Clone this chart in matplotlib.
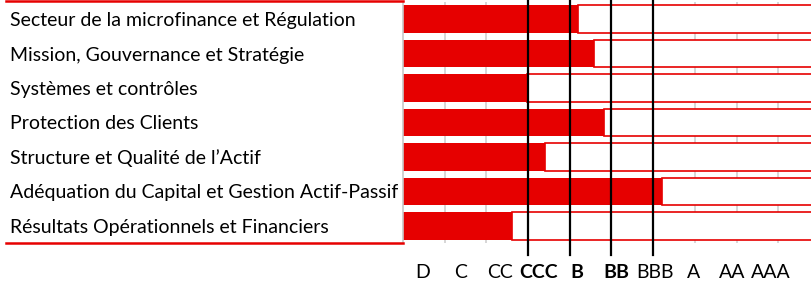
import matplotlib.pyplot as plt
import matplotlib.transforms as mtransforms
import numpy as np

plt.rcParams['font.family'] = ['Lato', 'DejaVu Sans']

categories = [
    "Secteur de la microfinance et Régulation",
    "Mission, Gouvernance et Stratégie",
    "Systèmes et contrôles",
    "Protection des Clients",
    "Structure et Qualité de l’Actif",
    "Adéquation du Capital et Gestion Actif-Passif",
    "Résultats Opérationnels et Financiers",
]
scores = [4.2, 4.58, 2.97, 4.82, 3.4, 6.2, 2.62]
ratings = ["D", "C", "CC", "CCC", "B", "BB", "BBB", "A", "AA", "AAA"]
bold_ratings = ["CCC", "B", "BB"]
thresholds = [3, 4, 5, 6]

red = "#e60000"

fig = plt.figure(figsize=(8.12, 2.82), dpi=100)
W, H = 812, 282
ax = fig.add_axes([403 / W, 1 - 243 / H, (812 - 403) / W, 241 / H])

y = np.arange(len(categories))
s = np.array(scores)
ax.barh(y, s, height=0.8, color=red, zorder=2)
ax.barh(y, 10 - s, left=s, height=0.8, color="white", edgecolor=red, lw=1.2, zorder=2)

ax.set_xlim(0, (812 - 403) / 41.7)
ax.set_ylim(len(categories) - 0.5, -0.5)
ax.set_xticks(range(1, 10))
ax.set_xticklabels([])
ax.set_yticks([])
ax.tick_params(length=0)
ax.grid(axis="x", color="#d0d0d0", lw=1.2, zorder=0)
for sp in ["top", "right", "bottom"]:
    ax.spines[sp].set_visible(False)
ax.spines["left"].set_color("#c8c8c8")
ax.spines["left"].set_linewidth(1.2)

# threshold lines, running past the plot area
for t in thresholds:
    ax.axvline(t, ymin=-0.05, ymax=1.01, color="black", lw=1.6, clip_on=False, zorder=4)

# row labels on the left
trans = mtransforms.blended_transform_factory(fig.transFigure, ax.transData)
for i, c in enumerate(categories):
    ax.text(10 / W, i + 0.04, c, transform=trans, ha="left", va="center", fontsize=14)

# red rules of the label table
fig.add_artist(plt.Line2D([6 / W, 403 / W], [1 - 0.8 / H, 1 - 0.8 / H], color=red, lw=1.8))
fig.add_artist(plt.Line2D([6 / W, 403 / W], [1 - 243 / H, 1 - 243 / H], color=red, lw=1.8))

# rating scale under the chart
tr2 = mtransforms.blended_transform_factory(ax.transData, fig.transFigure)
for i, r in enumerate(ratings):
    ax.text(0.46 + 0.93 * i, 1 - 273 / H, r, transform=tr2,
            ha="center", va="center", fontsize=14,
            fontweight="bold" if r in bold_ratings else "normal")

fig.savefig("out.png", dpi=100)
